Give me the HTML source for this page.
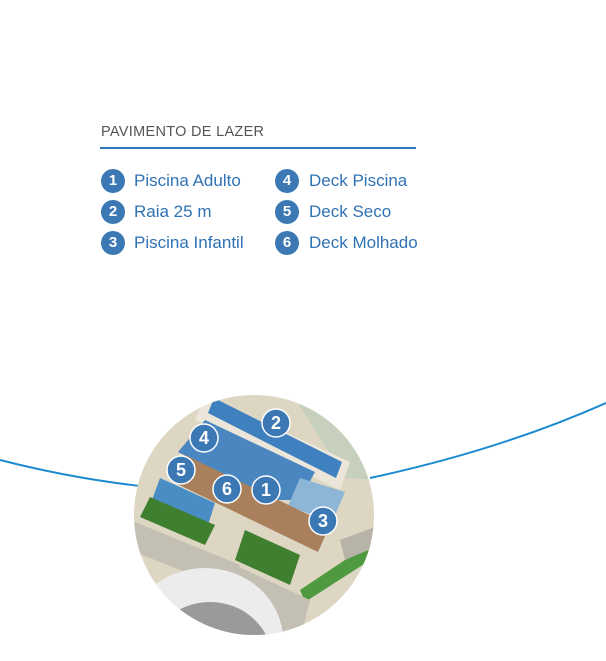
<!DOCTYPE html>
<html style="overflow:hidden"><head><style>
html,body{margin:0;width:606px;height:661px;overflow:hidden}
body{background:#fff;position:relative;font-family:"Liberation Sans",sans-serif}
.t{position:absolute;left:101px;top:124px;font-size:14.5px;color:#555;letter-spacing:0.3px}
.ln{position:absolute;left:100px;top:147px;width:316px;height:2px;background:#2c78bd}
.it{position:absolute;font-size:17px;color:#2f72b4;line-height:22px}
.n{position:absolute;width:24px;height:24px;border-radius:50%;background:#3b78b4;color:#fff;font-weight:bold;font-size:15px;text-align:center;line-height:24px}
</style></head><body>
<div class="t">PAVIMENTO DE LAZER</div>
<div class="ln"></div>
<div class="n" style="left:101px;top:169px">1</div><div class="it" style="left:134px;top:170px">Piscina Adulto</div>
<div class="n" style="left:101px;top:200px">2</div><div class="it" style="left:134px;top:201px">Raia 25 m</div>
<div class="n" style="left:101px;top:231px">3</div><div class="it" style="left:134px;top:232px">Piscina Infantil</div>
<div class="n" style="left:275px;top:169px">4</div><div class="it" style="left:309px;top:170px">Deck Piscina</div>
<div class="n" style="left:275px;top:200px">5</div><div class="it" style="left:309px;top:201px">Deck Seco</div>
<div class="n" style="left:275px;top:231px">6</div><div class="it" style="left:309px;top:232px">Deck Molhado</div>
<svg width="606" height="661" style="position:absolute;left:0;top:0;display:block">
<defs><clipPath id="c"><circle cx="254" cy="515" r="120"/></clipPath></defs>
<path d="M0 460 Q70 478 140 486" stroke="#1a8ad0" stroke-width="2" fill="none"/>
<path d="M370 478 Q500 450 606 403" stroke="#1a8ad0" stroke-width="2" fill="none"/>
<g clip-path="url(#c)">
<rect x="130" y="390" width="250" height="250" fill="#ddd6c3"/>
<path d="M290 390 L380 390 L380 480 L345 478 Z" fill="#c6d0bd"/>
<polygon points="205,395 350,462 340,490 195,420" fill="#ebe6d9"/>
<polygon points="214,398 342,462 336,478 208,413" fill="#3f80bf"/>
<polygon points="205,420 315,472 300,500 275,500 178,452" fill="#4a86c0"/>
<polygon points="300,478 345,492 332,522 288,506" fill="#8db5d6"/>
<polygon points="185,455 330,525 318,552 173,482" fill="#a9805b"/>
<polygon points="160,478 215,503 208,525 152,500" fill="#4a8dc4"/>
<polygon points="150,497 215,525 205,545 140,517" fill="#3f7f30"/>
<polygon points="245,530 300,555 290,585 235,560" fill="#3f7f30"/>
<polygon points="300,590 375,540 378,555 305,602" fill="#4f9a40"/>
<polygon points="130,520 240,565 230,590 130,550" fill="#c4bfb3"/>
<polygon points="235,565 310,600 300,640 220,600" fill="#c4bfb3"/>
<polygon points="340,540 380,525 380,545 345,560" fill="#b8b3a8"/>
<ellipse cx="205" cy="640" rx="78" ry="72" fill="#ececec"/>
<ellipse cx="210" cy="660" rx="62" ry="58" fill="#9a9a9a"/>
</g>
<g fill="#3b78b4" stroke="#fff" stroke-width="1.5"><circle cx="276" cy="423" r="14"/><circle cx="204" cy="438" r="14"/><circle cx="181" cy="470" r="14"/><circle cx="227" cy="489" r="14"/><circle cx="266" cy="490" r="14"/><circle cx="323" cy="521" r="14"/></g>
<g fill="#fff" font-weight="bold" font-size="18" text-anchor="middle" font-family="Liberation Sans"><text x="276" y="429">2</text><text x="204" y="444">4</text><text x="181" y="476">5</text><text x="227" y="495">6</text><text x="266" y="496">1</text><text x="323" y="527">3</text></g>
</svg>
</body></html>
